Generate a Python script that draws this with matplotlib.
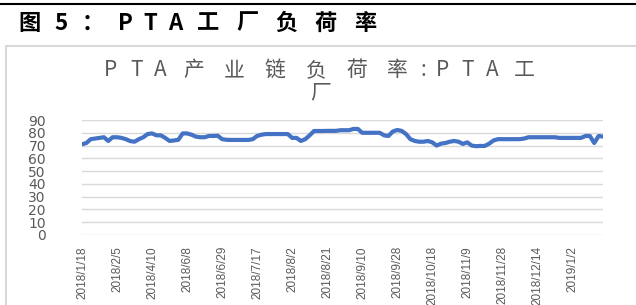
import matplotlib
matplotlib.use("Agg")
import matplotlib.pyplot as plt
from matplotlib.lines import Line2D
from matplotlib.patches import Rectangle

# 数据
heading = "图 5：PTA 工厂负荷率"
title_line1 = "PTA产业链负荷率:PTA工"
title_line2 = "厂"
tick_dates = ["2018/1/18", "2018/2/5", "2018/4/10", "2018/6/8", "2018/6/29",
              "2018/7/17", "2018/8/2", "2018/8/21", "2018/9/10", "2018/9/28",
              "2018/10/18", "2018/11/9", "2018/11/28", "2018/12/14", "2019/1/2"]
load_rate = [71, 72, 75, 75.5, 76, 76.5, 73.6, 76.5, 76.5, 76,
             75, 73.5, 73, 75, 76.5, 79, 79.5, 78, 78, 76,
             73.6, 74, 74.5, 79.5, 79.5, 78.5, 77, 76.5, 76.5, 77.5,
             77.5, 77.7, 75, 74.5, 74.4, 74.4, 74.4, 74.4, 74.4, 75,
             77.5, 78.5, 79, 79, 79, 79, 79, 79, 76, 76,
             73.6, 75, 78, 81.4, 81.4, 81.4, 81.5, 81.5, 81.5, 82,
             82, 82, 83, 83, 80, 80, 80, 80, 80, 78,
             77.5, 81, 82.2, 81.5, 79, 75, 73.6, 73, 73, 73.6,
             72.5, 70, 71.5, 72, 73, 73.6, 73, 71.3, 72.5, 70,
             69.5, 69.7, 69.7, 71.5, 74, 75, 75, 75, 75, 75,
             75, 75.5, 76.5, 76.5, 76.5, 76.5, 76.5, 76.5, 76.5, 76,
             76, 76, 76, 76, 76, 77.5, 77.5, 72, 77.5, 77]
label_step = 8  # 每隔几个点标一个日期

cjk = ["Noto Sans CJK SC", "DejaVu Sans"]
gray = "#595959"

W, H = 636, 305
fig = plt.figure(figsize=(W / 100, H / 100), dpi=100)
renderer = fig.canvas.get_renderer()


def stretch_text(s, x_left, x_right, y, **kw):
    # 原图被横向拉宽: 每个字按比例放大占位, 字居中在格子里
    chars = [c for c in s if c != " "]
    texts = [fig.text(0, 1 - y / H, c, ha="center", va="center", **kw) for c in chars]
    widths = [t.get_window_extent(renderer).width for t in texts]
    k = (x_right - x_left) / sum(widths)
    x = x_left
    for t, w in zip(texts, widths):
        t.set_x((x + w * k / 2) / W)
        x += w * k


# 顶部黑线和图框
fig.add_artist(Line2D([0, 1], [1 - 4 / H, 1 - 4 / H], color="black", lw=1.5))
fig.add_artist(Rectangle((6 / W, -0.2), 1.2, 1.2 - 46 / H, fill=False,
                         edgecolor="#d9d9d9", lw=1.5))

stretch_text(heading, 10, 385, 23, fontsize=16, fontweight="bold", family=cjk, color="black")
stretch_text(title_line1, 98, 545, 70, fontsize=15, family=cjk, color=gray)
fig.text(321 / W, 1 - 92 / H, title_line2, ha="center", va="center",
         fontsize=15, family=cjk, color=gray)

ax = fig.add_axes([82 / W, 1 - 235 / H, (603 - 82) / W, (235 - 120) / H])
x = list(range(len(load_rate)))
ax.plot(x, load_rate, color="#4472C4", lw=3, solid_joinstyle="round", solid_capstyle="round")
ax.set_xlim(0, len(load_rate) - 1)
ax.set_ylim(0, 90)
ax.set_yticks(range(0, 91, 10))
ax.grid(axis="y", color="#d9d9d9", lw=1)
ax.set_axisbelow(True)
for sp in ax.spines.values():
    sp.set_visible(False)
ax.set_xticks(x[::label_step][:len(tick_dates)])
ax.set_xticklabels(tick_dates, rotation=90, family="Liberation Sans", fontsize=8.5, color=gray)
ax.tick_params(axis="x", length=0, pad=8)
ax.tick_params(axis="y", length=0, pad=26, labelsize=10, labelcolor=gray)

fig.savefig("out.png", dpi=100)
